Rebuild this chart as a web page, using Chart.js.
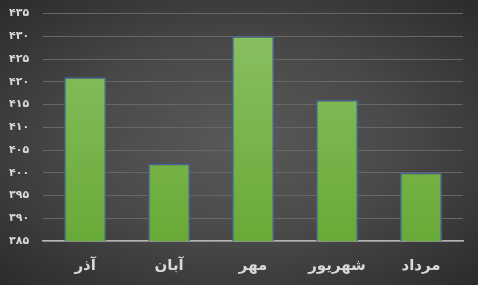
<!DOCTYPE html>
<html>
<head>
<meta charset="utf-8">
<script src="https://cdn.jsdelivr.net/npm/chart.js@4.4.0/dist/chart.umd.min.js"></script>
<style>
    html, body { margin: 0; padding: 0; }
    body {
        width: 478px;
        height: 285px;
        background: radial-gradient(ellipse at 50% 50%, #595959 0%, #4a4a4a 45%, #2b2b2b 100%);
    }
    #wrap { position: relative; width: 478px; height: 285px; }
</style>
</head>
<body>
<div id="wrap"><canvas id="chart" width="478" height="285"></canvas></div>
<script>
const months = ["آذر", "آبان", "مهر", "شهریور", "مرداد"];
const values = [421, 402, 430, 416, 400];
const yMin = 385;
const yMax = 435;
const yStep = 5;

const persianDigits = ["۰", "۱", "۲", "۳", "۴", "۵", "۶", "۷", "۸", "۹"];
function toPersian(n) {
    return String(n).replace(/\d/g, d => persianDigits[d]);
}

function barGradient(context) {
    const chart = context.chart;
    const area = chart.chartArea;
    if (!area) return "#74b244";
    const g = chart.ctx.createLinearGradient(0, area.top, 0, area.bottom);
    g.addColorStop(0, "#8bc163");
    g.addColorStop(1, "#68aa38");
    return g;
}

Chart.defaults.font.family = "'DejaVu Sans', sans-serif";

new Chart("chart", {
    type: "bar",
    data: {
        labels: months,
        datasets: [{
            data: values,
            backgroundColor: barGradient,
            borderColor: "#44619a",
            borderWidth: 1.5,
            categoryPercentage: 1,
            barPercentage: 0.5
        }]
    },
    options: {
        responsive: false,
        animation: false,
        layout: { padding: { left: 2, right: 15, top: 0, bottom: 2 } },
        plugins: {
            legend: { display: false },
            tooltip: { enabled: false }
        },
        scales: {
            x: {
                grid: { display: false },
                border: { color: "#b5b5b5", width: 1.5 },
                ticks: {
                    color: "#d9d9d9",
                    font: { size: 15, weight: "bold" },
                    padding: 8
                }
            },
            y: {
                min: yMin,
                max: yMax,
                border: { display: false },
                grid: {
                    color: "#676767",
                    lineWidth: 1,
                    drawTicks: true,
                    tickLength: 7,
                    tickColor: "rgba(0,0,0,0)"
                },
                ticks: {
                    stepSize: yStep,
                    color: "#d9d9d9",
                    font: { size: 11, weight: "bold" },
                    padding: 7,
                    callback: v => toPersian(v)
                }
            }
        }
    }
});
</script>
</body>
</html>
